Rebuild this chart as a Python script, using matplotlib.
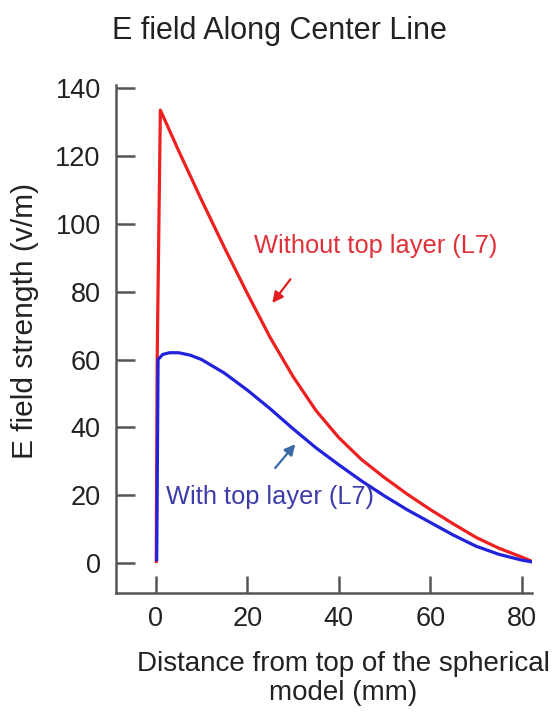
import matplotlib
matplotlib.use("Agg")
import matplotlib.pyplot as plt

plt.rcParams['font.family'] = ['Liberation Sans', 'DejaVu Sans']

# distance from top of the spherical model (mm) / E field (v/m)
red_x = [0.1, 0.3, 1.0, 5, 10, 15, 20, 25, 30, 35, 40, 45, 50, 55, 60, 65, 70, 75, 80, 82.5]
red_y = [0.5, 60, 133.5, 121.5, 107, 93, 79.5, 66.5, 55, 45, 37, 30.5, 25.2, 20.3, 15.8, 11.6, 7.6, 4.4, 1.8, 0.4]

blue_x = [0.2, 0.5, 1.5, 3, 5, 7.5, 10, 15, 20, 25, 30, 35, 40, 45, 50, 55, 60, 65, 70, 75, 80, 82.5]
blue_y = [1.0, 60, 61.5, 62, 62, 61.3, 60, 56, 51, 45.5, 39.6, 34, 29, 24.2, 19.8, 15.7, 12, 8.3, 5.0, 2.6, 0.9, 0.3]

x_ticks = [0, 20, 40, 60, 80]
y_ticks = [0, 20, 40, 60, 80, 100, 120, 140]

title = "E field Along Center Line"
x_label = "Distance from top of the spherical\nmodel (mm)"
y_label = "E field strength (v/m)"
red_label = "Without top layer (L7)"
blue_label = "With top layer (L7)"

text_col = "#222222"
axis_col = "#555555"

fig = plt.figure(figsize=(5.55, 7.13), dpi=100)
ax = fig.add_axes([0.209, 0.1683, 0.750, 0.7125])

ax.plot(red_x, red_y, color="#ee2020", lw=2.3)
ax.plot(blue_x, blue_y, color="#2222dd", lw=2.3)

ax.set_xlim(-8.7, 82.3)
ax.set_ylim(-8.8, 140.9)
ax.set_xticks(x_ticks)
ax.set_yticks(y_ticks)

for s in ["top", "right"]:
    ax.spines[s].set_visible(False)
for s in ["left", "bottom"]:
    ax.spines[s].set_color(axis_col)
    ax.spines[s].set_linewidth(1.8)

ax.tick_params(axis="y", direction="in", length=14, width=1.8, color=axis_col,
               labelsize=19.5, labelcolor=text_col, pad=11)
ax.tick_params(axis="x", direction="in", length=12, width=1.8, color=axis_col,
               labelsize=19.5, labelcolor=text_col, pad=9)

# annotations
ax.text(21.4, 93.4, red_label, color="#e03038", fontsize=18.3, ha="left", va="center")
ax.annotate("", xy=(25.1, 76), xytext=(29.8, 84.3),
            arrowprops=dict(arrowstyle="-|>", color="#e02020", lw=1.6, mutation_scale=16))
ax.text(2.2, 19.5, blue_label, color="#3c3ca8", fontsize=18.3, ha="left", va="center")
ax.annotate("", xy=(30.9, 35.7), xytext=(25.7, 27.4),
            arrowprops=dict(arrowstyle="-|>", color="#3a6aa8", lw=1.6, mutation_scale=16))

fig.text(0.503, 0.957, title, fontsize=22, color=text_col, ha="center", va="center")
fig.text(0.045, 0.55, y_label, fontsize=21.5, color=text_col, rotation=90,
         ha="center", va="center")
fig.text(0.618, 0.0477, x_label, fontsize=20, color=text_col, ha="center",
         va="center", multialignment="center", linespacing=1.15)

fig.savefig("out.png", dpi=100)
